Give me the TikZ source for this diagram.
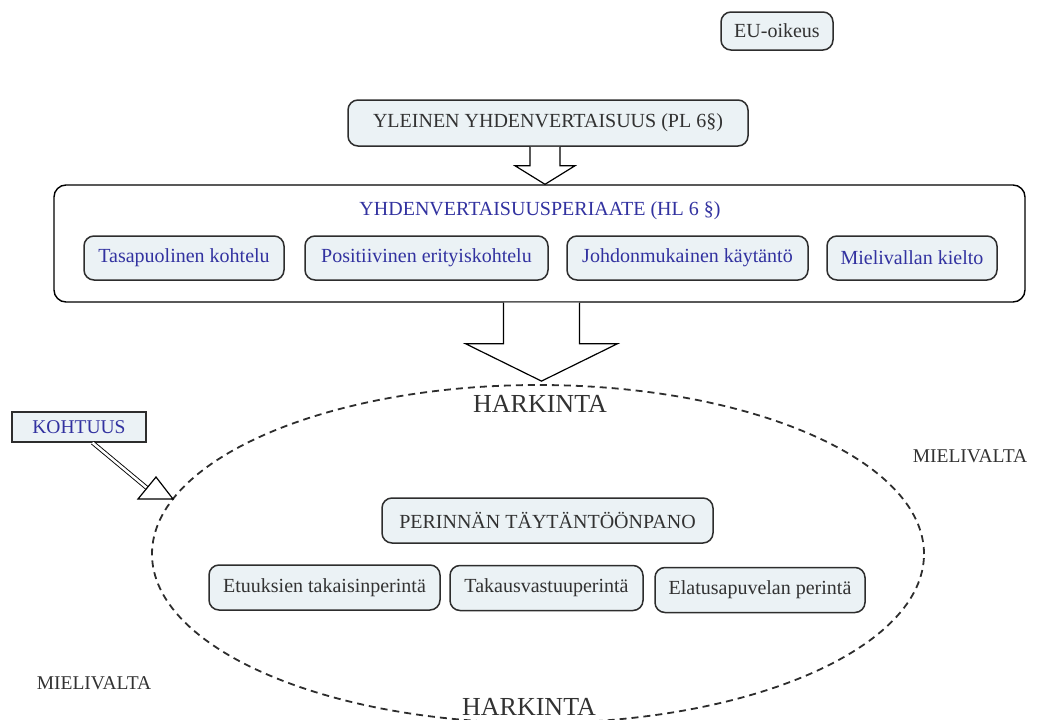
\documentclass[tikz,border=0pt]{standalone}
\usepackage{fontspec}
\setmainfont{Liberation Serif}
\usetikzlibrary{calc,shapes.geometric}
\definecolor{boxfill}{RGB}{235,242,245}
\definecolor{bluetxt}{RGB}{50,50,160}
\definecolor{graytxt}{RGB}{50,50,50}
\definecolor{edgecol}{RGB}{45,45,45}
\newcommand\bxfont{\fontsize{20}{24}\selectfont}
\newcommand\hkfont{\fontsize{26}{30}\selectfont}
\begin{document}
\begin{tikzpicture}[x=1pt,y=-1pt,
  rbox/.style={draw=edgecol, line width=1.5pt, rounded corners=10pt, fill=boxfill,
    inner sep=0pt, font=\bxfont, text=graytxt},
  bbox/.style={rbox, text=bluetxt},
  plaintext/.style={inner sep=0pt, font=\bxfont, text=graytxt},
  blockarrow/.style={draw=black, line width=1.2pt, fill=white, line join=miter},
]
\useasboundingbox (0,0) rectangle (1037,720);

% top boxes
\node[rbox, minimum width=112pt, minimum height=38pt] (eu) at (777,31) {EU-oikeus};
\node[rbox, minimum width=400pt, minimum height=46pt] (yl) at (548,123) {YLEINEN YHDENVERTAISUUS (PL 6§)};

% principle frame
\node[draw=black, line width=1.4pt, rounded corners=12pt, fill=white,
  minimum width=971pt, minimum height=117pt, inner sep=0pt] (hl) at (539.5,243.5) {};
\node[plaintext, text=bluetxt] (hlt) at (540,211) {YHDENVERTAISUUSPERIAATE (HL 6 §)};
\node[bbox, minimum width=200pt, minimum height=44pt] (t1) at (184,258) {Tasapuolinen kohtelu};
\node[bbox, minimum width=243pt, minimum height=44pt] (t2) at (426.5,258) {Positiivinen erityiskohtelu};
\node[bbox, minimum width=241pt, minimum height=44pt] (t3) at (687.5,258) {Johdonmukainen käytäntö};
\node[bbox, minimum width=170pt, minimum height=44pt] (t4) at (912,258) {Mielivallan kielto};

% small block arrow
\coordinate (a1top) at ($(yl.south)+(-3,0)$);
\coordinate (a1tip) at (a1top |- hl.north);
\filldraw[blockarrow] ($(a1top)+(-15,0)$) -- ($(a1top)+(-15,19)$) -- ($(a1top)+(-30,19)$)
  -- (a1tip) -- ($(a1top)+(30,19)$) -- ($(a1top)+(15,19)$) -- ($(a1top)+(15,0)$);

% ellipse
\node[ellipse, draw=edgecol, line width=1.8pt, dash pattern=on 7pt off 5pt,
  minimum width=772pt, minimum height=338pt, inner sep=0pt] (ell) at (538,554) {};

% big block arrow
\coordinate (a2top) at ($(hl.south)+(2,0)$);
\coordinate (a2tip) at ($(a2top |- ell.north)+(0,-3)$);
\filldraw[blockarrow] ($(a2top)+(-38,0)$) -- ($(a2top)+(-38,41)$) -- ($(a2top)+(-76,41)$)
  -- (a2tip) -- ($(a2top)+(76,41)$) -- ($(a2top)+(38,41)$) -- ($(a2top)+(38,0)$);

\node[plaintext, font=\hkfont] (hk1) at (540,404) {HARKINTA};
\node[plaintext, font=\hkfont] (hk2) at (529,707) {HARKINTA};
\node[plaintext, font=\fontsize{19.5}{22}\selectfont] (mv1) at (970,456) {MIELIVALTA};
\node[plaintext, font=\fontsize{19.5}{22}\selectfont] (mv2) at (94,683) {MIELIVALTA};

% execution boxes
\node[rbox, minimum width=331pt, minimum height=45pt] (per) at (547.5,520.5) {PERINNÄN TÄYTÄNTÖÖNPANO};
\node[rbox, minimum width=231pt, minimum height=45pt] (p1) at (324.5,587.5) {Etuuksien takaisinperintä};
\node[rbox, minimum width=193pt, minimum height=45pt] (p2) at (546.5,588) {Takausvastuuperintä};
\node[rbox, minimum width=210pt, minimum height=45pt] (p3) at (760,590) {Elatusapuvelan perintä};

% KOHTUUS
\node[draw=edgecol, line width=1.3pt, fill=boxfill, text=bluetxt, font=\fontsize{19.5}{22}\selectfont,
  minimum width=134pt, minimum height=30pt, inner sep=0pt] (koh) at (79,427) {KOHTUUS};
\coordinate (ks) at ($(koh.south west)!0.6!(koh.south east)$);
\coordinate (kt) at (173,499);
\coordinate (kb) at ($(kt)+(-26,-11)$);
\draw[draw=black, line width=0.9pt, double=white, double distance=2.5pt] (ks) -- (kb);
\filldraw[blockarrow] (kt) -- ($(kt)+(-35,0)$) -- ($(kt)+(-17,-22)$) -- cycle;
\end{tikzpicture}
\end{document}
